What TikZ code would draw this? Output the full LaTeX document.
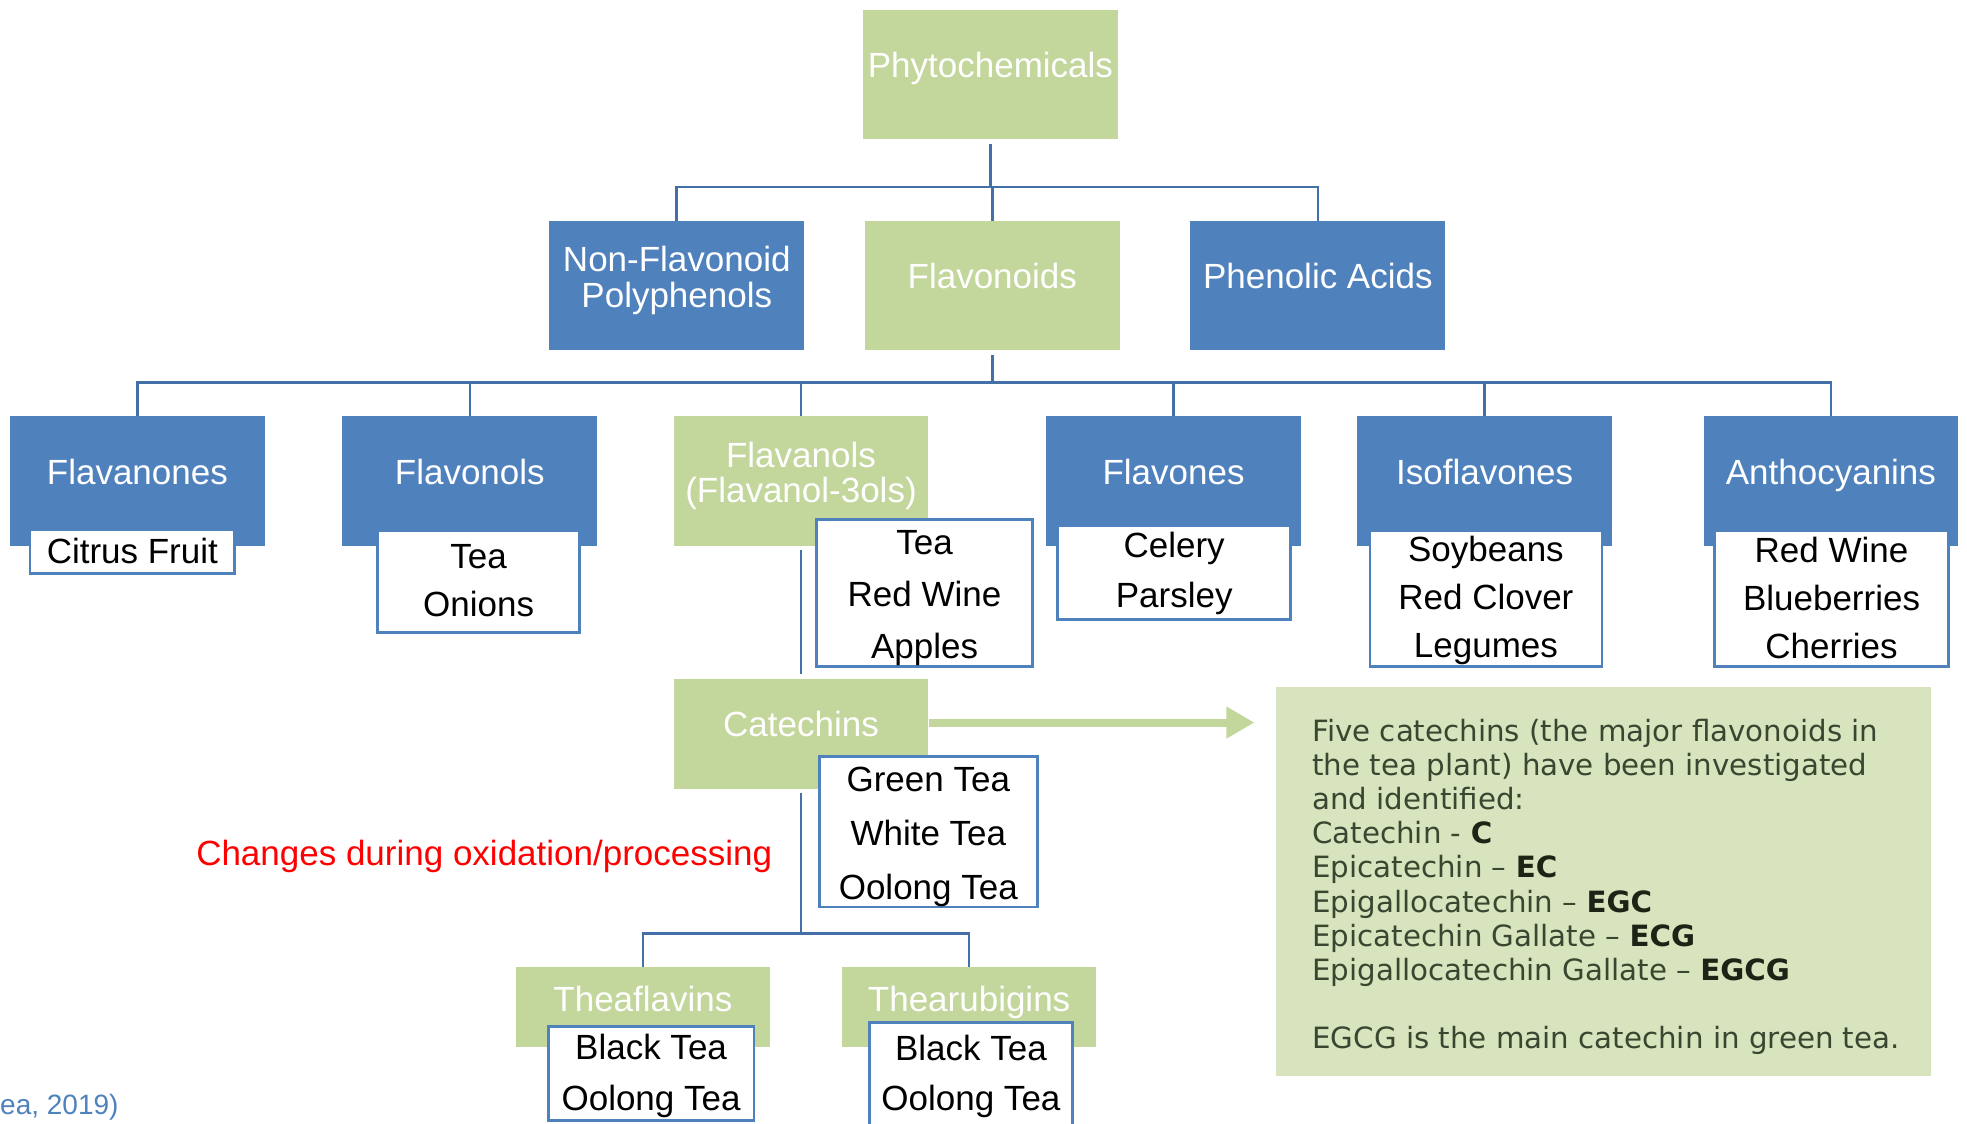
\documentclass[tikz,border=0pt]{standalone}
\usepackage{fontspec}
\setmainfont{Liberation Sans}
\newfontfamily\infofont{DejaVu Sans}
\usetikzlibrary{arrows.meta}
\definecolor{bblue}{HTML}{4F81BD}
\definecolor{bgreen}{HTML}{C3D69B}
\definecolor{lineblue}{HTML}{4470A8}
\definecolor{infofill}{HTML}{D7E4BD}
\definecolor{infotext}{HTML}{3A4630}
\definecolor{infobold}{HTML}{1C2416}
\definecolor{redtxt}{HTML}{FF0000}
\begin{document}
\begin{tikzpicture}[x=1.2545pt,y=-1.2545pt,
 cbox/.style={draw=none, minimum width=254.7pt, minimum height=129.2pt, inner sep=0pt},
 bluebox/.style={cbox, fill=bblue},
 greenbox/.style={cbox, fill=bgreen},
 head/.style={text=white, font=\fontsize{35}{36}\selectfont, anchor=base, inner sep=0pt},
 headml/.style={text=white, font=\fontsize{35}{36}\selectfont, align=center, inner sep=0pt},
 food/.style={draw=bblue, line width=2.8pt, fill=white, inner sep=0pt},
 foodtxt/.style={inner sep=0pt, align=center},
 conn/.style={draw=lineblue, line width=2.6pt},
 infoline/.style={anchor=base west, inner sep=0pt, text=infotext, font=\infofont\fontsize{29.3}{34}\selectfont},
]
\useasboundingbox (0,0) rectangle (1568,896);

% level 1
\node[greenbox] (phyt) at (789.5,59.5) {};
\node[head] (phyt-t) at (789.5,62) {Phytochemicals};

% level 2
\node[bluebox] (nonflav) at (539.5,227.5) {};
\node[greenbox] (flav) at (791,227.5) {};
\node[bluebox] (phen) at (1050.5,227.5) {};
\node[headml] (nonflav-t) at (539.5,223.5) {Non-Flavonoid\\Polyphenols};
\node[head] (flav-t) at (791,230) {Flavonoids};
\node[head] (phen-t) at (1050.5,230) {Phenolic Acids};

% level 3
\node[bluebox] (flavanones) at (109.5,383.5) {};
\node[bluebox] (flavonols) at (374.5,383.5) {};
\node[greenbox] (flavanols) at (638.5,383.5) {};
\node[bluebox] (flavones) at (935.5,383.5) {};
\node[bluebox] (isofl) at (1183.5,383.5) {};
\node[bluebox] (antho) at (1459.5,383.5) {};
\node[head] (flavanones-t) at (109.5,386) {Flavanones};
\node[head] (flavonols-t) at (374.5,386) {Flavonols};
\node[headml, font=\fontsize{35}{35}\selectfont] (flavanols-t) at (638.5,379) {Flavanols\\(Flavanol-3ols)};
\node[head] (flavones-t) at (935.5,386) {Flavones};
\node[head] (isofl-t) at (1183.5,386) {Isoflavones};
\node[head] (antho-t) at (1459.5,386) {Anthocyanins};

% food boxes level 3
\node[food, minimum width=204.5pt, minimum height=43.9pt] (citrus) at (105.5,439.5) {};
\node[food, minimum width=202pt, minimum height=101.6pt] (onions) at (381.5,463.5) {};
\node[food, minimum width=215.8pt, minimum height=146.8pt] (flfood) at (737,472.5) {};
\node[food, minimum width=233.3pt, minimum height=94.1pt] (celery) at (936,456.5) {};
\node[food, minimum width=232pt, minimum height=135.5pt] (soy) at (1184.5,477) {};
\node[food, minimum width=233.3pt, minimum height=135.5pt] (anthfood) at (1460,477) {};
\node[foodtxt, font=\fontsize{35}{42}\selectfont] (citrus-t) at (105.5,439.5) {Citrus Fruit};
\node[foodtxt, font=\fontsize{35}{48}\selectfont] (onions-t) at (381.5,462.5) {Tea\\Onions};
\node[foodtxt, font=\fontsize{35}{52}\selectfont] (flfood-t) at (737,476.5) {Tea\\Red Wine\\Apples};
\node[foodtxt, font=\fontsize{35}{50}\selectfont] (celery-t) at (936,457.5) {Celery\\Parsley};
\node[foodtxt, font=\fontsize{35}{48}\selectfont] (soy-t) at (1184.5,479) {Soybeans\\Red Clover\\Legumes};
\node[foodtxt, font=\fontsize{35}{48}\selectfont] (anthfood-t) at (1460,477) {Red Wine\\Blueberries\\Cherries};

% catechins
\node[greenbox, minimum height=110.4pt] (catechins) at (638.5,585) {};
\node[head] (catechins-t) at (638.5,587) {Catechins};
\node[food, minimum width=218.3pt, minimum height=150.5pt] (catfood) at (740,663) {};
\node[foodtxt, font=\fontsize{35}{54}\selectfont] (catfood-t) at (740,667) {Green Tea\\White Tea\\Oolong Tea};

% level 5
\node[greenbox, minimum height=80.3pt] (theaf) at (512.5,803) {};
\node[greenbox, minimum height=80.3pt] (thear) at (772.5,803) {};
\node[head] (theaf-t) at (512.5,806) {Theaflavins};
\node[head] (thear-t) at (772.5,806) {Thearubigins};
\node[food, minimum width=205.7pt, minimum height=94.1pt] (theafood) at (519,855.5) {};
\node[food, minimum width=203.2pt, minimum height=102.9pt] (thearfood) at (774,856) {};
\node[foodtxt, font=\fontsize{35}{51}\selectfont] (theafood-t) at (519,857.5) {Black Tea\\Oolong Tea};
\node[foodtxt, font=\fontsize{35}{50}\selectfont] (thearfood-t) at (774,858) {Black Tea\\Oolong Tea};

% connectors
\coordinate (bus1) at (0,149);
\coordinate (bus2) at (0,305);
\coordinate (bus3) at (0,744);
\foreach \c in {nonflav,flav,phen}
  \draw[conn, shorten <=5pt] (phyt.south) -- (phyt.south |- bus1) -| (\c.north);
\foreach \c in {flavanones,flavonols,flavanols,flavones,isofl,antho}
  \draw[conn, shorten <=5pt] (flav.south) -- (flav.south |- bus2) -| (\c.north);
\draw[conn, shorten <=4pt, shorten >=4pt] (flavanols.south) -- (catechins.north);
\foreach \c in {theaf,thear}
  \draw[conn, shorten <=4pt] (catechins.south) -- (catechins.south |- bus3) -| (\c.north);

% info box
\node[fill=infofill, minimum width=654.8pt, minimum height=388.9pt, inner sep=0pt] (info) at (1278,703) {};
\coordinate (arrtip) at (1000,576);
\draw[draw=bgreen, line width=8pt, -{Triangle[length=28pt,width=30pt]}] (catechins.east |- arrtip) -- (arrtip);

\node[infoline] (i1) at (1046,591) {Five catechins (the major flavonoids in};
\node[infoline] (i2) at (1046,618.2) {the tea plant) have been investigated};
\node[infoline] (i3) at (1046,645.4) {and identified:};
\node[infoline] (i4) at (1046,672.6) {Catechin - \textcolor{infobold}{\bfseries C}};
\node[infoline] (i5) at (1046,699.8) {Epicatechin – \textcolor{infobold}{\bfseries EC}};
\node[infoline] (i6) at (1046,727) {Epigallocatechin – \textcolor{infobold}{\bfseries EGC}};
\node[infoline] (i7) at (1046,754.2) {Epicatechin Gallate – \textcolor{infobold}{\bfseries ECG}};
\node[infoline] (i8) at (1046,781.4) {Epigallocatechin Gallate – \textcolor{infobold}{\bfseries EGCG}};
\node[infoline] (i9) at (1046,835.8) {EGCG is the main catechin in green tea.};

% annotations
\node[text=redtxt, font=\fontsize{35}{42}\selectfont, inner sep=0pt] (changes) at (386,683) {Changes during oxidation/processing};
\node[anchor=west, text=bblue, font=\fontsize{28}{34}\selectfont, inner sep=0pt] (cite) at (0,883) {ea, 2019)};
\end{tikzpicture}
\end{document}
